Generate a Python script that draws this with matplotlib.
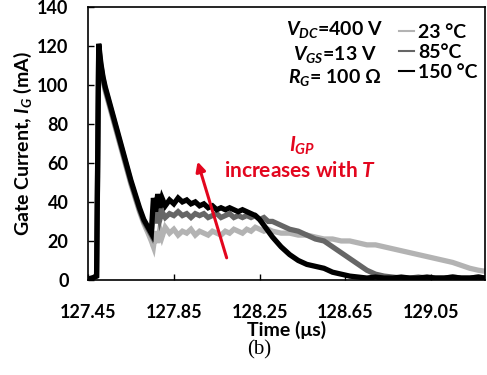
import matplotlib
matplotlib.use('Agg')
import matplotlib.pyplot as plt

plt.rcParams['font.family'] = 'Lato'
plt.rcParams['font.weight'] = 'bold'
plt.rcParams['axes.labelweight'] = 'bold'
plt.rcParams['mathtext.fontset'] = 'custom'
plt.rcParams['mathtext.rm'] = 'Lato:bold'
plt.rcParams['mathtext.it'] = 'Lato:bold:italic'
plt.rcParams['mathtext.bf'] = 'Lato:bold'

# time axis (us), shared by the three traces
t = [127.45, 127.47, 127.49, 127.495, 127.50, 127.51, 127.52, 127.53, 127.55, 127.57,
     127.59, 127.61, 127.63, 127.65, 127.67, 127.69, 127.71, 127.73, 127.745,
     127.755, 127.765, 127.775, 127.785, 127.795, 127.81,
     127.83, 127.85, 127.87, 127.89, 127.91, 127.93, 127.95, 127.97, 127.99, 128.01,
     128.03, 128.05, 128.07, 128.09, 128.11, 128.13, 128.15, 128.17, 128.19, 128.21,
     128.23, 128.25, 128.27, 128.29,
     128.31, 128.35, 128.39, 128.43, 128.47, 128.51, 128.55, 128.59, 128.63, 128.67,
     128.71, 128.75, 128.79, 128.83, 128.87, 128.91, 128.95, 128.99, 129.03, 129.07,
     129.11, 129.15, 129.19, 129.23, 129.27, 129.30]

# gate current (mA)
ig_23 = [0.5, 1, 2, 55, 117, 109, 102, 97, 89, 81, 73, 65, 57, 49, 42, 35, 29, 24, 20,
         17, 25, 19, 26, 22, 27,
         24, 26, 23, 25, 24, 26, 23, 25, 24, 23, 25, 24, 23, 25, 24, 26, 25, 24, 26, 25,
         27, 26, 25, 26,
         25, 24, 24, 23, 23, 22, 21, 21, 20, 20, 19, 18, 18, 17, 16, 15, 14, 13, 12, 11,
         10, 9, 7.5, 6, 5, 4.5]
ig_85 = [0.5, 1, 2, 58, 119, 110, 103, 98, 90, 82, 74, 66, 58, 50, 43, 36, 30, 26, 23,
         36, 29, 37, 31, 35, 32,
         34, 33, 35, 33, 34, 32, 34, 33, 34, 32, 33, 34, 32, 33, 34, 32, 33, 32, 33, 32,
         33, 31, 32, 30,
         30, 28, 26, 25, 23, 21, 20, 17, 14, 11, 8, 5, 3, 2, 1.5, 1, 1, 1.5, 1, 1,
         1, 1.5, 1, 1, 1.5, 1]
ig_150 = [0.5, 1, 2, 60, 121, 111, 104, 99, 91, 83, 75, 67, 59, 51, 44, 37, 31, 27, 24,
          42, 35, 44, 37, 42, 38,
          41, 39, 42, 40, 41, 39, 40, 38, 39, 37, 38, 36, 37, 36, 37, 36, 35, 36, 35, 34,
          33, 31, 28, 25,
          22, 17, 13, 10, 8, 7, 6, 4, 3, 2, 1.5, 1, 1.5, 1, 1, 1.5, 1, 1, 1.5, 1,
          1, 1.5, 1, 1, 1.5, 1]

labels = ['23 \u00b0C', '85\u00b0C', '150 \u00b0C']
colors = ['#b3b3b3', '#666666', '#000000']
x_ticks = [127.45, 127.85, 128.25, 128.65, 129.05]
y_ticks = [0, 20, 40, 60, 80, 100, 120, 140]

red = '#e3061e'

fig = plt.figure(figsize=(4.87, 3.75), dpi=100)
ax = fig.add_axes([0.1807, 0.2533, 0.815, 0.729])

for ig, c, lab in zip([ig_23, ig_85, ig_150], colors, labels):
    ax.plot(t, ig, color=c, lw=3.8, label=lab, solid_joinstyle='miter')

ax.set_xlim(127.45, 129.30)
ax.set_ylim(0, 140)
ax.set_xticks(x_ticks)
ax.set_xticklabels([f'{v:.2f}' for v in x_ticks])
ax.set_yticks(y_ticks)
ax.tick_params(direction='in', length=4, width=1, labelsize=13)
ax.tick_params(axis='x', pad=17)
ax.tick_params(axis='y', pad=14)
for s in ax.spines.values():
    s.set_linewidth(1.2)

ax.set_xlabel('Time (\u03bcs)', fontsize=14, labelpad=0)
ax.set_ylabel('Gate Current, $I_G$ (mA)', fontsize=14, labelpad=2)

leg = ax.legend(frameon=False, loc='upper left', bbox_to_anchor=(0.755, 0.98),
                handlelength=0.75, handletextpad=0.2, labelspacing=0.15, fontsize=14,
                borderaxespad=0.2)
for ln in leg.get_lines():
    ln.set_linewidth(1.5)

ax.text(0.622, 0.915, '$V_{DC}$=400 V', transform=ax.transAxes, ha='center',
        va='center', fontsize=14)
ax.text(0.622, 0.825, '$V_{GS}$=13 V', transform=ax.transAxes, ha='center',
        va='center', fontsize=14)
ax.text(0.622, 0.74, '$R_G$= 100 \u03a9', transform=ax.transAxes, ha='center',
        va='center', fontsize=14)

ax.text(0.539, 0.49, '$I_{GP}$', transform=ax.transAxes, ha='center', va='center',
        fontsize=15, color=red)
ax.text(0.535, 0.40, 'increases with $T$', transform=ax.transAxes, ha='center',
        va='center', fontsize=15, color=red)
ax.annotate('', xy=(127.957, 62), xytext=(128.10, 10),
            arrowprops=dict(arrowstyle='-|>', color=red, lw=2.2, mutation_scale=14))

fig.text(0.532, 0.067, '(b)', ha='center', va='center', fontsize=15,
         family='Liberation Serif', weight='normal')

fig.savefig('out.png', dpi=100)
